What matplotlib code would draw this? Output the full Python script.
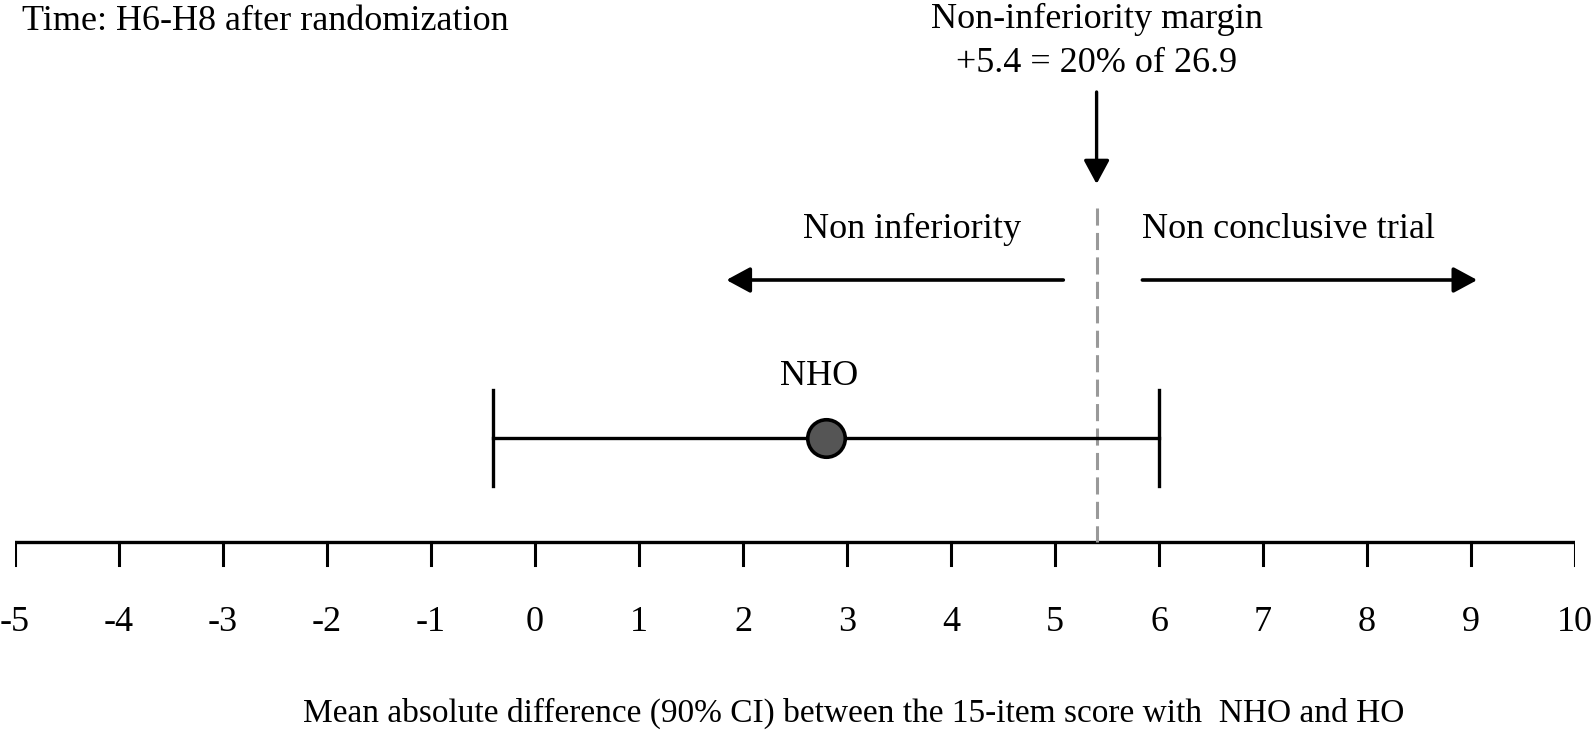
import matplotlib
matplotlib.use("Agg")
import matplotlib.pyplot as plt

# données
ticks = list(range(-5, 11))
mean_diff = 2.8
ci_low, ci_high = -0.4, 6.0
margin = 5.4
left_arrow = (5.08, 1.84)    # "Non inferiority"
right_arrow = (5.84, 9.06)   # "Non conclusive trial"

plt.rcParams["font.family"] = ["Liberation Serif", "DejaVu Serif"]
FS = 26

W, H = 1595, 731
fig = plt.figure(figsize=(W / 100, H / 100), dpi=100)
# axe : -5 -> 15 px, 10 -> 1575 px ; y en pixels (haut = 0)
ax = fig.add_axes([15 / W, 0, 1560 / W, 1])
ax.set_xlim(-5, 10)
ax.set_ylim(H, 0)
ax.axis("off")

ARROW = "-|>,head_length=0.5,head_width=0.27"

# Axe horizontal
y_axis = 542
ax.plot([-5, 10], [y_axis, y_axis], color="black", lw=2.4, solid_capstyle="projecting")
for t in ticks:
    ax.plot([t, t], [y_axis, y_axis + 23], color="black", lw=2.2)
    ax.text(t, 631, f"{t}", ha="center", va="baseline", fontsize=FS)

ax.text(3.06, 722, "Mean absolute difference (90% CI) between the 15-item score with  NHO and HO",
        ha="center", va="baseline", fontsize=24)

# Marge de non-infériorité
ax.plot([margin, margin], [208, y_axis], color="#999999", lw=2.2, dashes=(5.6, 2.4))
ax.text(margin, 28, "Non-inferiority margin", ha="center", va="baseline", fontsize=FS)
ax.text(margin, 72, "+5.4 = 20% of 26.9", ha="center", va="baseline", fontsize=FS)
ax.annotate("", xy=(margin, 184), xytext=(margin, 92),
            arrowprops=dict(arrowstyle=ARROW, color="black", lw=2.4,
                            mutation_scale=29, shrinkA=0, shrinkB=0))

# Zones
ax.text(3.63, 238, "Non inferiority", ha="center", va="baseline", fontsize=FS)
ax.text(7.25, 238, "Non conclusive trial", ha="center", va="baseline", fontsize=FS)
for x0, x1 in (left_arrow, right_arrow):
    ax.annotate("", xy=(x1, 280), xytext=(x0, 280),
                arrowprops=dict(arrowstyle=ARROW, color="black", lw=2.6,
                                mutation_scale=29, shrinkA=0, shrinkB=0))

# IC 90 % et estimation
y_ci = 438
ax.plot([ci_low, ci_high], [y_ci, y_ci], color="black", lw=2.4)
for x in (ci_low, ci_high):
    ax.plot([x, x], [390, 486], color="black", lw=2.4)
ax.plot(mean_diff, y_ci, "o", ms=27, mfc="#555555", mec="black", mew=2.6)
ax.text(2.73, 385, "NHO", ha="center", va="baseline", fontsize=FS)

ax.text(-5 + 7 / 104, 30, "Time: H6-H8 after randomization", ha="left", va="baseline",
        fontsize=FS)

fig.savefig("out.png", dpi=100)
plt.close(fig)
